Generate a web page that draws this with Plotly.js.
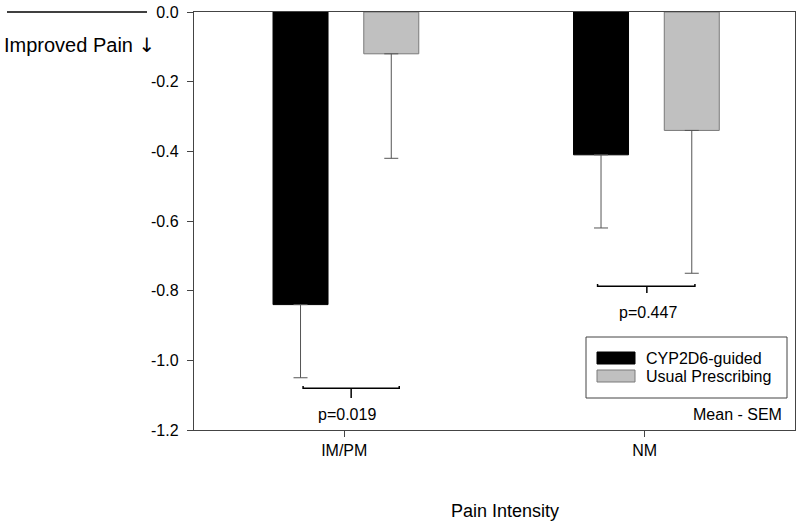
<!DOCTYPE html>
<html>
<head>
<meta charset="utf-8">
<script src="https://cdn.plot.ly/plotly-3.0.1.min.js"></script>
<style>html,body{margin:0;padding:0;background:#fff;}#chart{width:800px;height:525px;}</style>
</head>
<body>
<div id="chart"></div>
<script>
// ---- data ----
const categories = ["IM/PM", "NM"];
const seriesNames = ["CYP2D6-guided", "Usual Prescribing"];
const guidedMean = [-0.84, -0.41];
const guidedSEM = [0.21, 0.21];
const usualMean = [-0.12, -0.34];
const usualSEM = [0.30, 0.41];
const pLabels = ["p=0.019", "p=0.447"];
const bracketY = [-1.08, -0.787];
const yTickVals = [0, -0.2, -0.4, -0.6, -0.8, -1.0, -1.2];
const yTickText = ["0.0", "-0.2", "-0.4", "-0.6", "-0.8", "-1.0", "-1.2"];
const yAxisNote = "Improved Pain <span style='font-family:DejaVu Sans'>\u2193</span>";
const xTitle = "Pain Intensity";
const statNote = "Mean - SEM";

// ---- layout helpers ----
const L = 194, R = 795, T = 12, B = 430, W = 800, H = 525;
const px = x => (x - L) / (R - L);
const py = y => (B - y) / (B - T);
const FONT = "Liberation Sans, Arial, sans-serif";
const AX = "#444";

const barWidth = 0.183;
const colors = ["#000000", "#c0c0c0"];
const lineColors = ["#000000", "#7a7a7a"];
const offsets = [-0.237, 0.065];
const means = [guidedMean, usualMean];
const sems = [guidedSEM, usualSEM];

const traces = means.map((m, i) => ({
  type: "bar",
  x: categories,
  y: m,
  name: seriesNames[i],
  width: barWidth,
  offset: offsets[i],
  marker: {color: colors[i], line: {color: lineColors[i], width: 1}},
  error_y: {type: "data", symmetric: false, array: m.map(() => 0), arrayminus: sems[i],
            color: "#555", thickness: 1, width: 7},
  showlegend: false,
  hoverinfo: "skip"
}));

const shapes = [];
const annotations = [];
// significance brackets
const bLeft = [-0.137, -0.157], bRight = [0.183, 0.167], bMid = [0.023, 0.007];
const bDrop = [0.028, 0.02];
categories.forEach((c, i) => {
  const y = bracketY[i], hook = 0.006;
  const x0 = i + bLeft[i], x1 = i + bRight[i], xm = i + bMid[i];
  shapes.push({type: "path", xref: "x", yref: "y",
    path: `M${x0},${y + hook} L${x0},${y} L${x1},${y} L${x1},${y + hook}`,
    line: {color: "#000", width: 1.5}});
  shapes.push({type: "line", xref: "x", yref: "y", x0: xm, x1: xm, y0: y, y1: y - bDrop[i],
    line: {color: "#000", width: 1.5}});
  annotations.push({xref: "x", yref: "y", x: i + 0.01, y: y - 0.075,
    text: pLabels[i], showarrow: false, font: {family: FONT, size: 16, color: "#000"},
    xanchor: "center", yanchor: "middle"});
});

// legend drawn manually
shapes.push({type: "rect", xref: "paper", yref: "paper", x0: px(586), x1: px(787), y0: py(398), y1: py(337),
  line: {color: AX, width: 1}, fillcolor: "#fff"});
const swY = [358, 376];
seriesNames.forEach((n, i) => {
  shapes.push({type: "rect", xref: "paper", yref: "paper", x0: px(597), x1: px(635),
    y0: py(swY[i] + 6), y1: py(swY[i] - 6), fillcolor: colors[i], line: {color: lineColors[i], width: 1}});
  annotations.push({xref: "paper", yref: "paper", x: px(644), y: py(swY[i]), text: n, showarrow: false,
    xanchor: "left", yanchor: "middle", font: {family: FONT, size: 16, color: "#000"}});
});
annotations.push({xref: "paper", yref: "paper", x: px(784), y: py(414), text: statNote, showarrow: false,
  xanchor: "right", yanchor: "middle", font: {family: FONT, size: 16, color: "#000"}});

// y-axis note
shapes.push({type: "line", xref: "paper", yref: "paper", x0: px(7), x1: px(147), y0: py(12), y1: py(12),
  line: {color: "#000", width: 1.5}});
annotations.push({xref: "paper", yref: "paper", x: px(2), y: py(45), text: yAxisNote, showarrow: false,
  xanchor: "left", yanchor: "middle", font: {family: FONT, size: 20, color: "#000"}});
// x title
annotations.push({xref: "paper", yref: "paper", x: px(505), y: py(511), text: xTitle, showarrow: false,
  xanchor: "center", yanchor: "middle", font: {family: FONT, size: 18, color: "#000"}});

const layout = {
  width: W, height: H,
  margin: {l: L, r: W - R, t: T, b: H - B, pad: 0},
  paper_bgcolor: "#fff", plot_bgcolor: "#fff",
  font: {family: FONT, size: 16, color: "#000"},
  barmode: "overlay",
  xaxis: {type: "category", range: [-0.5, 1.5], showgrid: false, zeroline: false,
    showline: true, linecolor: AX, linewidth: 1.2, mirror: true,
    ticks: "outside", ticklen: 6, tickcolor: AX, tickwidth: 1,
    tickfont: {family: FONT, size: 16, color: "#000"}, ticklabelstandoff: 0, fixedrange: true},
  yaxis: {range: [-1.2, 0], tickvals: yTickVals, ticktext: yTickText, showgrid: false, zeroline: false,
    showline: true, linecolor: AX, linewidth: 1.2, mirror: true,
    ticks: "outside", ticklen: 6, tickcolor: AX, tickwidth: 1,
    tickfont: {family: FONT, size: 16, color: "#000"}, ticklabelstandoff: 5, fixedrange: true},
  shapes: shapes,
  annotations: annotations,
  showlegend: false
};

Plotly.newPlot("chart", traces, layout, {displayModeBar: false, staticPlot: true});
</script>
</body>
</html>
